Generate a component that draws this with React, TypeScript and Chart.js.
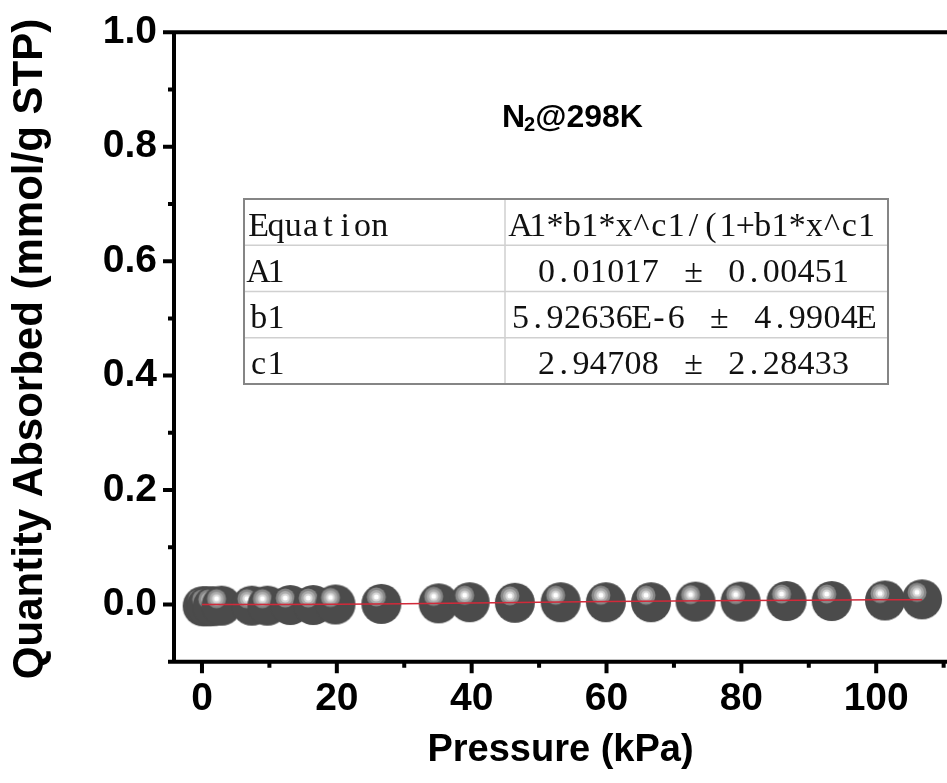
import React, { useEffect, useRef } from 'react';
import { Chart, registerables } from 'chart.js';

Chart.register(...registerables);

// ---- data ----
const pressure = [0.1, 0.7, 1.6, 2.9, 7.4, 9.7, 13.1, 16.5, 19.8, 26.6, 35.1, 39.7, 46.4, 53.2, 59.9, 66.6, 73.2, 79.9, 86.7, 93.4, 101.3, 106.8];
const quantity = [-0.003, -0.003, -0.003, -0.002, -0.002, -0.002, -0.001, -0.001, 0.0, 0.001, 0.002, 0.004, 0.003, 0.004, 0.004, 0.004, 0.005, 0.005, 0.006, 0.006, 0.007, 0.009];
const fitPressure = [0, 10, 20, 30, 40, 50, 60, 70, 80, 90, 100, 106.8];
const fitQuantity = [0, 0.0001, 0.0004, 0.0012, 0.0024, 0.0037, 0.005, 0.0061, 0.0069, 0.0076, 0.0081, 0.0083];

const xMajorTicks = [0, 20, 40, 60, 80, 100];
const xMinorTicks = [10, 30, 50, 70, 90, 110];
const yMajorTicks = [0, 0.2, 0.4, 0.6, 0.8, 1.0];
const yMinorTicks = [-0.1, 0.1, 0.3, 0.5, 0.7, 0.9];

const xTitle = 'Pressure (kPa)';
const yTitle = 'Quantity Absorbed (mmol/g STP)';
const labelMain = 'N';
const labelSub = '2';
const labelRest = '@298K';

const tableLeftCol = ['Equation', 'A1', 'b1', 'c1'];
const tableRightCol = ['A1*b1*x^c1/(1+b1*x^c1', '0.01017 ± 0.00451', '5.92636E-6 ± 4.9904E', '2.94708 ± 2.28433'];

const SANS = "'Liberation Sans', Arial, sans-serif";
const SERIF = "'Liberation Serif', 'Times New Roman', serif";

function makeBall(): HTMLCanvasElement {
  const c = document.createElement('canvas');
  c.width = 42;
  c.height = 42;
  const g = c.getContext('2d')!;
  const cx = 21, cy = 21;
  g.beginPath();
  g.arc(cx, cy, 20, 0, Math.PI * 2);
  g.fillStyle = '#4b4b4b';
  g.fill();
  const hx = cx - 5, hy = cy - 7;
  const rings: [number, string][] = [
    [9.5, '#878787'],
    [7, '#acacac'],
    [4.6, '#d6d6d6'],
    [2.5, '#ffffff'],
  ];
  for (const [r, col] of rings) {
    g.beginPath();
    g.arc(hx, hy, r, 0, Math.PI * 2);
    g.fillStyle = col;
    g.fill();
  }
  return c;
}

function monoWidth(text: string, adv: number) {
  let w = 0;
  for (const ch of text) w += ch === '±' ? adv * 2 : adv;
  return w;
}
function drawMono(ctx: CanvasRenderingContext2D, text: string, x: number, base: number, adv: number) {
  let cx = x;
  for (const ch of text) {
    const w = ch === '±' ? adv * 2 : adv;
    ctx.fillText(ch, cx + w / 2, base);
    cx += w;
  }
}

const decorPlugin = {
  id: 'decor',
  afterDatasetsDraw(chart: any) {
    const { ctx, chartArea } = chart;
    const xs = chart.scales.x;
    const ys = chart.scales.y;
    const L = chartArea.left, T = chartArea.top, B = chartArea.bottom, R = chartArea.right;
    ctx.save();
    ctx.strokeStyle = '#000';
    ctx.lineWidth = 4;
    ctx.lineCap = 'butt';
    ctx.beginPath();
    ctx.moveTo(L, T - 2);
    ctx.lineTo(L, B + 2);
    ctx.moveTo(L - 2, B);
    ctx.lineTo(R, B);
    ctx.moveTo(L - 2, T);
    ctx.lineTo(R, T);
    for (const v of xMajorTicks) {
      const p = xs.getPixelForValue(v);
      ctx.moveTo(p, B);
      ctx.lineTo(p, B + 11.5);
    }
    for (const v of xMinorTicks) {
      const p = xs.getPixelForValue(v);
      ctx.moveTo(p, B);
      ctx.lineTo(p, B + 6);
    }
    for (const v of yMajorTicks) {
      const p = ys.getPixelForValue(v);
      ctx.moveTo(L, p);
      ctx.lineTo(L - 11, p);
    }
    for (const v of yMinorTicks) {
      const p = ys.getPixelForValue(v);
      ctx.moveTo(L, p);
      ctx.lineTo(L - 6, p);
    }
    ctx.stroke();

    // y axis title (drawn here so it may run past the plot height as in the original)
    ctx.save();
    ctx.translate(30, (T + B) / 2 + 2);
    ctx.rotate(-Math.PI / 2);
    ctx.fillStyle = '#000';
    ctx.font = `bold 42px ${SANS}`;
    ctx.textAlign = 'center';
    ctx.textBaseline = 'middle';
    ctx.fillText(yTitle, 0, 0);
    ctx.restore();

    // N2@298K label
    ctx.fillStyle = '#000';
    ctx.textAlign = 'left';
    ctx.textBaseline = 'alphabetic';
    ctx.font = `bold 32px ${SANS}`;
    let tx = 502;
    const tb = 127;
    ctx.fillText(labelMain, tx, tb);
    tx += ctx.measureText(labelMain).width - 1;
    ctx.font = `bold 20px ${SANS}`;
    ctx.fillText(labelSub, tx, tb + 4);
    tx += ctx.measureText(labelSub).width;
    ctx.font = `bold 32px ${SANS}`;
    ctx.fillText(labelRest, tx, tb);

    // parameter table
    const tl = 244, tr = 888, tt = 199, tbm = 384, div = 505;
    const rh = (tbm - tt) / tableLeftCol.length;
    ctx.fillStyle = '#fff';
    ctx.fillRect(tl, tt, tr - tl, tbm - tt);
    ctx.strokeStyle = '#d0d0d0';
    ctx.lineWidth = 1.5;
    ctx.beginPath();
    for (let i = 1; i < tableLeftCol.length; i++) {
      ctx.moveTo(tl, tt + rh * i);
      ctx.lineTo(tr, tt + rh * i);
    }
    ctx.moveTo(div, tt);
    ctx.lineTo(div, tbm);
    ctx.stroke();
    ctx.strokeStyle = '#858585';
    ctx.lineWidth = 2;
    ctx.strokeRect(tl, tt, tr - tl, tbm - tt);

    ctx.fillStyle = '#111';
    ctx.font = `34px ${SERIF}`;
    ctx.textAlign = 'center';
    const adv = 17.3;
    const colCentre = (div + tr) / 2 - 3;
    for (let i = 0; i < tableLeftCol.length; i++) {
      const base = tt + rh * i + 36.5;
      drawMono(ctx, tableLeftCol[i], tl + 6, base, adv);
      const w = monoWidth(tableRightCol[i], adv);
      ctx.save();
      ctx.beginPath();
      ctx.rect(div, tt + rh * i, tr - div, rh);
      ctx.clip();
      drawMono(ctx, tableRightCol[i], colCentre - w / 2, base, adv);
      ctx.restore();
    }
    ctx.restore();
  },
};

const zeroPad = (axis: any) => {
  axis.paddingTop = 0;
  axis.paddingBottom = 0;
  axis.paddingLeft = 0;
  axis.paddingRight = 0;
};

export default function App() {
  const ref = useRef<HTMLCanvasElement | null>(null);
  useEffect(() => {
    document.body.style.margin = '0';
    const canvas = ref.current!;
    const ball = makeBall();
    const chart = new Chart(canvas, {
      type: 'scatter',
      data: {
        datasets: [
          {
            label: 'fit',
            data: fitPressure.map((x, i) => ({ x, y: fitQuantity[i] })),
            showLine: true,
            borderColor: '#d12a3a',
            borderWidth: 1.5,
            pointRadius: 0,
            order: 0,
            clip: false as any,
          } as any,
          {
            label: 'N2',
            data: pressure.map((x, i) => ({ x, y: quantity[i] })),
            pointStyle: ball as any,
            pointRadius: 20,
            order: 1,
            clip: false as any,
          } as any,
        ],
      },
      options: {
        responsive: false,
        animation: false,
        devicePixelRatio: 1,
        layout: { autoPadding: false, padding: { top: 32.3, right: 0, left: 0, bottom: 0 } },
        plugins: { legend: { display: false }, tooltip: { enabled: false } },
        scales: {
          x: {
            type: 'linear',
            min: -4.15,
            max: 110.5,
            grid: { display: false, drawTicks: false },
            border: { display: false },
            afterBuildTicks: (axis: any) => {
              axis.ticks = xMajorTicks.map((value) => ({ value }));
            },
            afterFit: (axis: any) => {
              axis.height = 783 - 661.7;
              zeroPad(axis);
            },
            ticks: {
              autoSkip: false,
              maxRotation: 0,
              padding: 14,
              color: '#000',
              font: { family: SANS, size: 39, weight: 'bold' },
              callback: (v: any) => String(v),
            },
            title: {
              display: true,
              text: xTitle,
              color: '#000',
              font: { family: SANS, size: 38, weight: 'bold' },
              padding: { top: 0, bottom: 10 },
            },
          },
          y: {
            type: 'linear',
            min: -0.1,
            max: 1.0,
            grid: { display: false, drawTicks: false },
            border: { display: false },
            afterBuildTicks: (axis: any) => {
              axis.ticks = yMajorTicks.map((value) => ({ value }));
            },
            afterFit: (axis: any) => {
              axis.width = 174;
              zeroPad(axis);
            },
            ticks: {
              autoSkip: false,
              padding: 17,
              color: '#000',
              font: { family: SANS, size: 39, weight: 'bold' },
              callback: (v: any) => Number(v).toFixed(1),
            },
            title: { display: false, text: yTitle },
          },
        },
      },
      plugins: [decorPlugin],
    });
    return () => chart.destroy();
  }, []);
  return (
    <div style={{ position: 'absolute', left: 0, top: 0, width: 947, height: 783, background: '#fff' }}>
      <canvas ref={ref} width={947} height={783} />
    </div>
  );
}
